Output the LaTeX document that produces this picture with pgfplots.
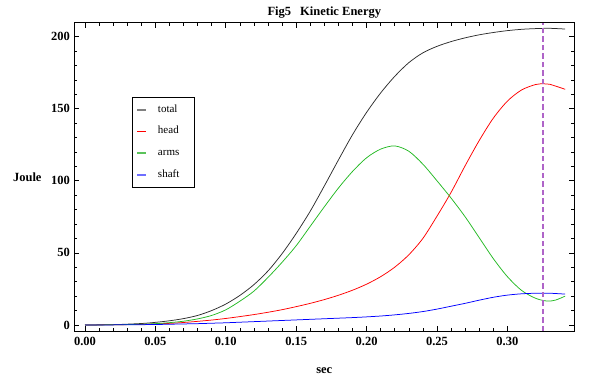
\documentclass[border=0pt]{standalone}
\usepackage{fontspec}
\setmainfont{Liberation Serif}
\usepackage{pgfplots}
\pgfplotsset{compat=1.18}
\usepackage{pgfplotstable}

\definecolor{totc}{RGB}{45,45,45}
\definecolor{headc}{RGB}{255,0,0}
\definecolor{armc}{RGB}{35,185,35}
\definecolor{shaftc}{RGB}{0,0,255}
\definecolor{dashc}{RGB}{175,100,200}
\definecolor{legtot}{RGB}{128,128,128}
\definecolor{legarm}{RGB}{90,195,90}
\definecolor{legshaft}{RGB}{110,110,255}

\pgfplotstableread{
x y
0.00 0
0.02 0.2
0.04 1.0
0.05 1.8
0.06 2.9
0.07 4.4
0.08 6.6
0.09 10.0
0.10 14.5
0.11 20.5
0.12 28
0.13 37.5
0.14 49.5
0.15 63.5
0.16 79
0.17 96.5
0.18 114.5
0.19 132
0.20 147.5
0.21 161
0.22 172.5
0.23 182
0.24 188.8
0.25 193.3
0.26 196.6
0.27 199.2
0.28 201.3
0.29 202.9
0.30 204.2
0.31 205.1
0.32 205.6
0.33 205.8
0.341 205.3
}\totaltab

\pgfplotstableread{
x y
0.00 0
0.02 0.1
0.04 0.4
0.05 0.7
0.06 1.1
0.07 1.7
0.08 2.5
0.09 3.4
0.10 4.5
0.11 5.8
0.12 7.2
0.13 8.8
0.14 10.6
0.15 12.7
0.16 15.0
0.17 17.6
0.18 20.6
0.19 24.1
0.20 28.3
0.21 33.5
0.22 40.1
0.23 48.7
0.24 60.1
0.25 75.5
0.26 92
0.27 110.5
0.28 128
0.29 143.5
0.30 155.3
0.31 163
0.32 166.8
0.326 167.3
0.33 167
0.341 163.5
}\headtab

\pgfplotstableread{
x y
0.00 0
0.02 0.1
0.04 0.5
0.05 0.9
0.06 1.6
0.07 2.6
0.08 4.2
0.09 6.6
0.10 10.5
0.11 16.5
0.12 23.5
0.13 33
0.14 43.5
0.15 55
0.16 68.5
0.17 82
0.18 95
0.19 106.5
0.20 116
0.21 122
0.22 124.2
0.23 120.5
0.24 111.5
0.25 100
0.26 88
0.27 75
0.28 60.5
0.29 46
0.30 33.5
0.31 24
0.32 18.5
0.328 16.6
0.334 17.2
0.341 20.0
}\armstab

\pgfplotstableread{
x y
0.00 0
0.02 0.05
0.04 0.2
0.05 0.3
0.06 0.5
0.07 0.7
0.08 0.9
0.09 1.2
0.10 1.5
0.11 1.9
0.12 2.3
0.13 2.7
0.14 3.1
0.15 3.5
0.16 3.9
0.17 4.3
0.18 4.7
0.19 5.1
0.20 5.6
0.21 6.2
0.22 7.0
0.23 8.0
0.24 9.3
0.25 11.0
0.26 13.0
0.27 15.0
0.28 17.2
0.29 19.2
0.30 20.7
0.31 21.6
0.32 22.0
0.33 22.0
0.341 21.4
}\shafttab

\begin{document}
\begin{tikzpicture}
\begin{axis}[
  scale only axis,
  width=500pt, height=308.3pt,
  xmin=-0.0076, xmax=0.3475,
  ymin=-4.2, ymax=209.7,
  axis line style={line width=0.8pt},
  xtick={0,0.05,0.10,0.15,0.20,0.25,0.30},
  ytick={0,50,100,150,200},
  minor x tick num=4,
  minor y tick num=4,
  tick align=inside,
  major tick length=5pt,
  minor tick length=3pt,
  tick style={line width=0.7pt, black},
  /pgf/number format/assume math mode=true,
  xticklabel style={font=\bfseries\fontsize{12.5}{14}\selectfont, inner sep=0pt, anchor=north, yshift=-6pt,
    /pgf/number format/.cd, fixed, fixed zerofill, precision=2},
  yticklabel style={font=\bfseries\fontsize{12.5}{14}\selectfont, inner sep=0pt, anchor=east, xshift=-4.3pt},
  title={Fig5\hspace{9pt}Kinetic Energy},
  every axis title/.style={at={(rel axis cs:0.5,1)}, anchor=base, yshift=7.5pt, font=\bfseries\fontsize{12.5}{14}\selectfont},
  xlabel={sec},
  every axis x label/.style={at={(rel axis cs:0.5,0)}, anchor=center, yshift=-40pt, font=\bfseries\fontsize{12.5}{14}\selectfont},
  ylabel={Joule},
  every axis y label/.style={at={(rel axis cs:0,0.5)}, anchor=center, xshift=-47pt, font=\bfseries\fontsize{12.5}{14}\selectfont},
  legend style={at={(rel axis cs:0.116,0.760)}, anchor=north west, draw=black, line width=0.8pt,
    inner xsep=3.5pt, inner ysep=7.6pt,
    font=\fontsize{11}{12}\selectfont,
    nodes={inner sep=0pt, text height=7.5pt, text depth=2.5pt},
    row sep=11.8pt},
  legend cell align=left,
  legend image code/.code={\draw[#1] (0pt,0pt) -- (9pt,0pt);},
  /tikz/every odd column/.style={column sep=11pt},
  /tikz/every even column/.append style={text width=33pt},
]
\addlegendimage{color=legtot, draw=legtot, line width=1.8pt}
\addlegendentry{total}
\addlegendimage{color=red, draw=red, line width=1.6pt}
\addlegendentry{head}
\addlegendimage{color=legarm, draw=legarm, line width=1.6pt}
\addlegendentry{arms}
\addlegendimage{color=legshaft, draw=legshaft, line width=1.8pt}
\addlegendentry{shaft}

\addplot[color=totc, line width=0.75pt, smooth, forget plot] table {\totaltab};
\addplot[color=headc, line width=0.75pt, smooth, forget plot] table {\headtab};
\addplot[color=armc, line width=0.75pt, smooth, forget plot] table {\armstab};
\addplot[color=shaftc, line width=0.75pt, smooth, forget plot] table {\shafttab};
\addplot[color=dashc, draw=dashc, line width=1.8pt, dash pattern=on 5.5pt off 3pt, forget plot] coordinates {(0.3255,-4.2) (0.3255,209.7)};

\coordinate (ll) at (rel axis cs:0,0);
\coordinate (ur) at (rel axis cs:1,1);
\end{axis}
\path (ll) ++(-74.3pt,-55pt) coordinate (bba);
\path (ur) ++(41.7pt,22.7pt) coordinate (bbb);
\pgfresetboundingbox
\path[use as bounding box] (bba) rectangle (bbb);
\end{tikzpicture}
\end{document}
